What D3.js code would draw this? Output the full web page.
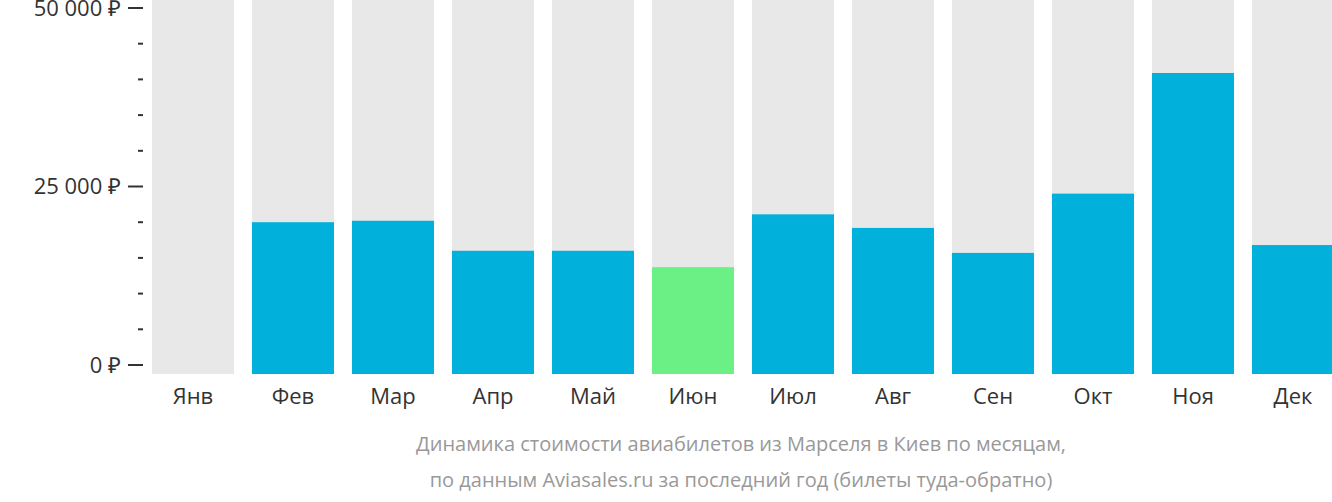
<!DOCTYPE html>
<html><head><meta charset="utf-8">
<script src="https://cdn.jsdelivr.net/npm/d3@7"></script>
<style>body{margin:0;background:#fff}svg{font-family:"Open Sans",sans-serif}</style>
</head><body><svg id="c" width="1332" height="502"></svg>
<script>
const months = ["Янв","Фев","Мар","Апр","Май","Июн","Июл","Авг","Сен","Окт","Ноя","Дек"];
const prices = [0, 20000, 20200, 16000, 16000, 13700, 21100, 19200, 15700, 24000, 40900, 16800];
const cheapest = "Июн";
const majorTicks = [0, 25000, 50000];
const caption = ["Динамика стоимости авиабилетов из Марселя в Киев по месяцам,",
                 "по данным Aviasales.ru за последний год (билеты туда-обратно)"];

const svg = d3.select("#c");
const y = d3.scaleLinear().domain([0, 50000]).range([365, 8]);
const x = d3.scaleBand().domain(months).range([143, 1343]).paddingInner(0.18).paddingOuter(0.09);
const bottom = 374;

svg.selectAll("rect.bg").data(months).enter().append("rect")
  .attr("x", d => x(d)).attr("y", 0).attr("width", x.bandwidth()).attr("height", bottom)
  .attr("fill", "#e8e8e8");

svg.selectAll("rect.v").data(prices).enter().append("rect")
  .attr("x", (d, i) => x(months[i])).attr("y", d => d ? y(d) : bottom)
  .attr("width", x.bandwidth()).attr("height", d => d ? bottom - y(d) : 0)
  .attr("fill", (d, i) => months[i] === cheapest ? "#6af085" : "#02b0dc");

const ax = svg.append("g");
d3.range(0, 50001, 5000).forEach(v => {
  const major = majorTicks.includes(v);
  ax.append("line").attr("x1", major ? 128 : 138).attr("x2", 143)
    .attr("y1", y(v)).attr("y2", y(v)).attr("stroke", "#333").attr("stroke-width", 2);
});
ax.selectAll("text").data(majorTicks).enter().append("text")
  .attr("x", 121).attr("y", d => y(d)).attr("dy", "0.35em").attr("text-anchor", "end")
  .attr("font-size", 22).attr("fill", "#333")
  .text(d => d3.format(",")(d).replace(/,/g, "\u00a0") + " ₽");

svg.selectAll("text.m").data(months).enter().append("text")
  .attr("x", d => x(d) + x.bandwidth() / 2).attr("y", 404).attr("text-anchor", "middle")
  .attr("font-size", 22).attr("fill", "#333").text(d => d);

svg.selectAll("text.cap").data(caption).enter().append("text")
  .attr("x", 741).attr("y", (d, i) => 451 + i * 36).attr("text-anchor", "middle")
  .attr("font-size", 20).attr("fill", "#999").text(d => d);
</script></body></html>
